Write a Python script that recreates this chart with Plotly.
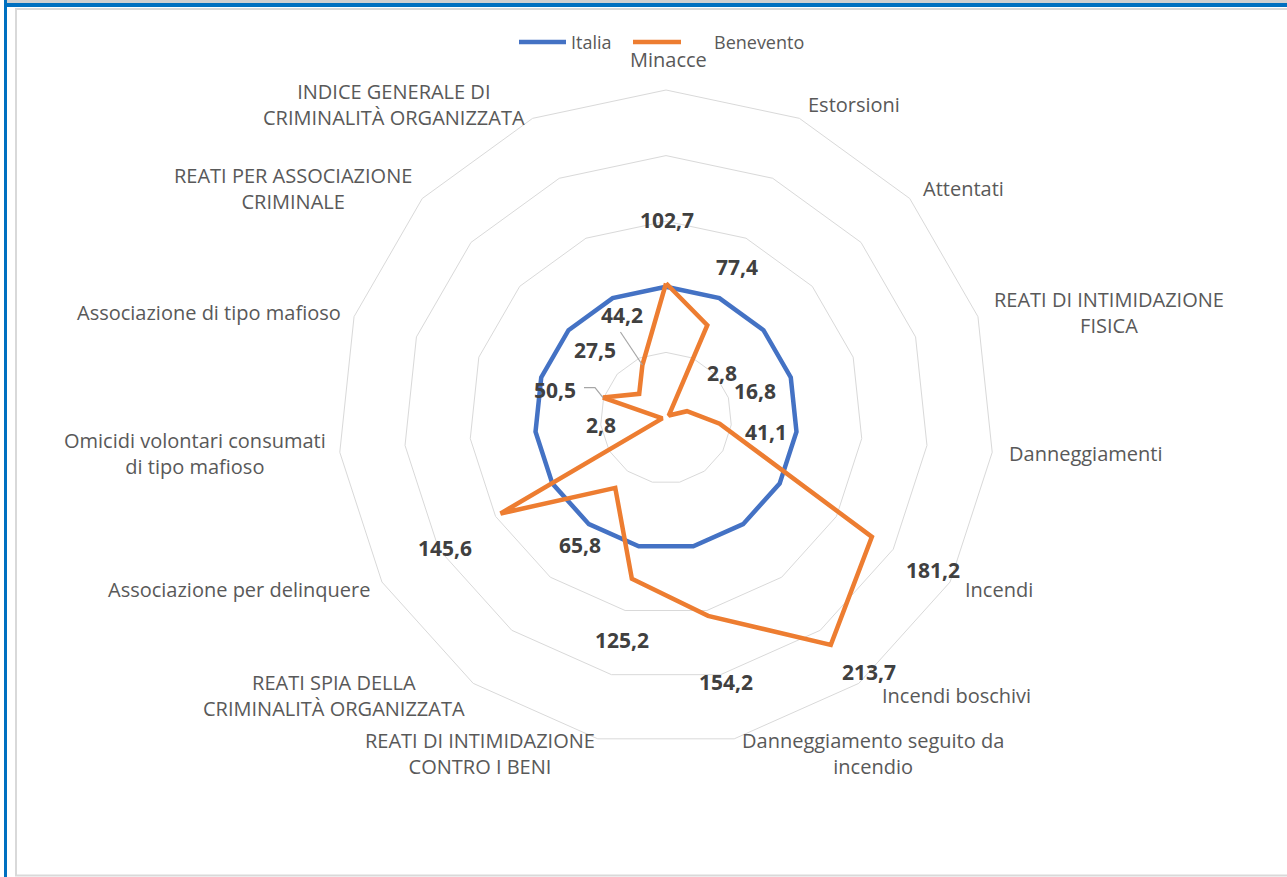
import math
import plotly.graph_objects as go

# Crime indicators (Italia = 100)
categories = [
    "Minacce",
    "Estorsioni",
    "Attentati",
    "REATI DI INTIMIDAZIONE<br>FISICA",
    "Danneggiamenti",
    "Incendi",
    "Incendi boschivi",
    "Danneggiamento seguito da<br>incendio",
    "REATI DI INTIMIDAZIONE<br>CONTRO I BENI",
    "REATI SPIA DELLA<br>CRIMINALITÀ ORGANIZZATA",
    "Associazione per delinquere",
    "Omicidi volontari consumati<br>di tipo mafioso",
    "Associazione di tipo mafioso",
    "REATI PER ASSOCIAZIONE<br>CRIMINALE",
    "INDICE GENERALE DI<br>CRIMINALITÀ ORGANIZZATA",
]
italia = [100, 100, 100, 100, 100, 100, 100, 100, 100, 100, 100, 100, 100, 100, 100]
benevento = [102.7, 77.4, 2.8, 16.8, 41.1, 181.2, 213.7, 154.2, 125.2, 65.8, 145.6, 2.8, 50.5, 27.5, 44.2]

# pixel offsets of the value labels from their points (x right, y down)
label_dx = [1, 30, 53, 68, 46, 61, 38, 18, -10, -35, -56, -61, -48, -44, -20]
label_dy = [-63, -58, -43, -20, 8, 33, 27, 66, 61, 57, 34, 7, -8, -44, -50]
# horizontal nudge of the category labels (px)
cat_nudge_x = [2, 0, 0, 0, 0, 0, 12, 3, 2, 3, 3, 3, 3, 3, 1]

W, H = 1287, 877
R_MAX = 250
# polar square in pixels
CX, CY, RPX = 666, 418, 328
CAT_GAP = 15
dom_x = [(CX - RPX) / W, (CX + RPX) / W]
dom_y = [1 - (CY + RPX) / H, 1 - (CY - RPX) / H]

n = len(categories)
theta_closed = categories + categories[:1]

fig = go.Figure()
fig.add_trace(go.Scatterpolar(
    r=italia + italia[:1], theta=theta_closed, mode="lines", name="Italia",
    line=dict(color="#4472C4", width=4.5), showlegend=False,
))
fig.add_trace(go.Scatterpolar(
    r=benevento + benevento[:1], theta=theta_closed, mode="lines", name="Benevento",
    line=dict(color="#ED7D31", width=4.5), showlegend=False,
))


def polar_px(rr, idx):
    ang = math.radians(360.0 * idx / n)
    return CX + rr * math.sin(ang), CY - rr * math.cos(ang), ang


def to_px(value, idx):
    x, y, _ = polar_px(value / R_MAX * RPX, idx)
    return x, y


annotations = []

# category labels around the outer ring, multi-line text centred
for i, name in enumerate(categories):
    x, y, ang = polar_px(RPX + CAT_GAP, i)
    s, c = math.sin(ang), math.cos(ang)
    xanchor = "left" if s > 0.05 else ("right" if s < -0.05 else "center")
    yanchor = "middle"
    if abs(s) <= 0.05:
        yanchor = "bottom" if c > 0 else "top"
    annotations.append(dict(
        x=(x + cat_nudge_x[i]) / W, y=1 - y / H, xref="paper", yref="paper",
        text=name, showarrow=False, xanchor=xanchor, yanchor=yanchor, align="center",
        font=dict(family="Open Sans", size=20, color="#595959"),
    ))

# value labels
for i, v in enumerate(benevento):
    px, py = to_px(v, i)
    annotations.append(dict(
        x=(px + label_dx[i]) / W, y=1 - (py + label_dy[i]) / H,
        xref="paper", yref="paper", showarrow=False,
        text=f"{v:.1f}".replace(".", ","),
        font=dict(family="Open Sans", size=21, color="#404040", weight="bold"),
        xanchor="center", yanchor="middle",
    ))

shapes = []
# leader lines for two labels moved away from their points
leaders = {14: [(0, 0), (-22, -33)], 12: [(0, 0), (-8, -10), (-19, -10)]}
for i, pts in leaders.items():
    px, py = to_px(benevento[i], i)
    path = " ".join(
        ("M" if k == 0 else "L") + f"{(px + dx) / W:.5f},{1 - (py + dy) / H:.5f}"
        for k, (dx, dy) in enumerate(pts)
    )
    shapes.append(dict(type="path", xref="paper", yref="paper", path=path,
                       line=dict(color="#a6a6a6", width=1.2)))

# legend
legend_items = [("Italia", "#4472C4", 519, 566, 569), ("Benevento", "#ED7D31", 633, 681, 712)]
for name, col, x0, x1, tx in legend_items:
    shapes.append(dict(type="line", xref="paper", yref="paper",
                       x0=x0 / W, x1=x1 / W, y0=1 - 42 / H, y1=1 - 42 / H,
                       line=dict(color=col, width=4.5)))
    annotations.append(dict(x=tx / W, y=1 - 42 / H, xref="paper", yref="paper",
                            text=name, showarrow=False, xanchor="left", yanchor="middle",
                            font=dict(family="Open Sans", size=18, color="#595959")))

# frame: title band, blue border, light chart-area border
shapes += [
    dict(type="rect", xref="paper", yref="paper", x0=7 / W, x1=1, y0=1 - 3 / H, y1=1,
         fillcolor="#d0d0d0", line=dict(width=0), layer="below"),
    dict(type="rect", xref="paper", yref="paper", x0=4 / W, x1=1, y0=1 - 7 / H, y1=1 - 3 / H,
         fillcolor="#0070C0", line=dict(width=0)),
    dict(type="rect", xref="paper", yref="paper", x0=4 / W, x1=7 / W, y0=0, y1=1,
         fillcolor="#0070C0", line=dict(width=0)),
    dict(type="rect", xref="paper", yref="paper", x0=16 / W, x1=1.01, y0=1 - 875.5 / H, y1=1 - 9 / H,
         fillcolor="rgba(0,0,0,0)", line=dict(color="#d9d9d9", width=2), layer="below"),
]

fig.update_layout(
    width=W, height=H,
    margin=dict(l=0, r=0, t=0, b=0),
    paper_bgcolor="white",
    showlegend=False,
    polar=dict(
        domain=dict(x=dom_x, y=dom_y),
        bgcolor="white",
        gridshape="linear",
        radialaxis=dict(range=[0, R_MAX], dtick=50, showticklabels=False, ticks="",
                        showline=False, gridcolor="#d9d9d9", gridwidth=1),
        angularaxis=dict(direction="clockwise", rotation=90, showgrid=False,
                         showline=True, linecolor="#d9d9d9", linewidth=1, ticks="",
                         showticklabels=False),
    ),
    annotations=annotations,
    shapes=shapes,
)

fig.write_html("out.html")
